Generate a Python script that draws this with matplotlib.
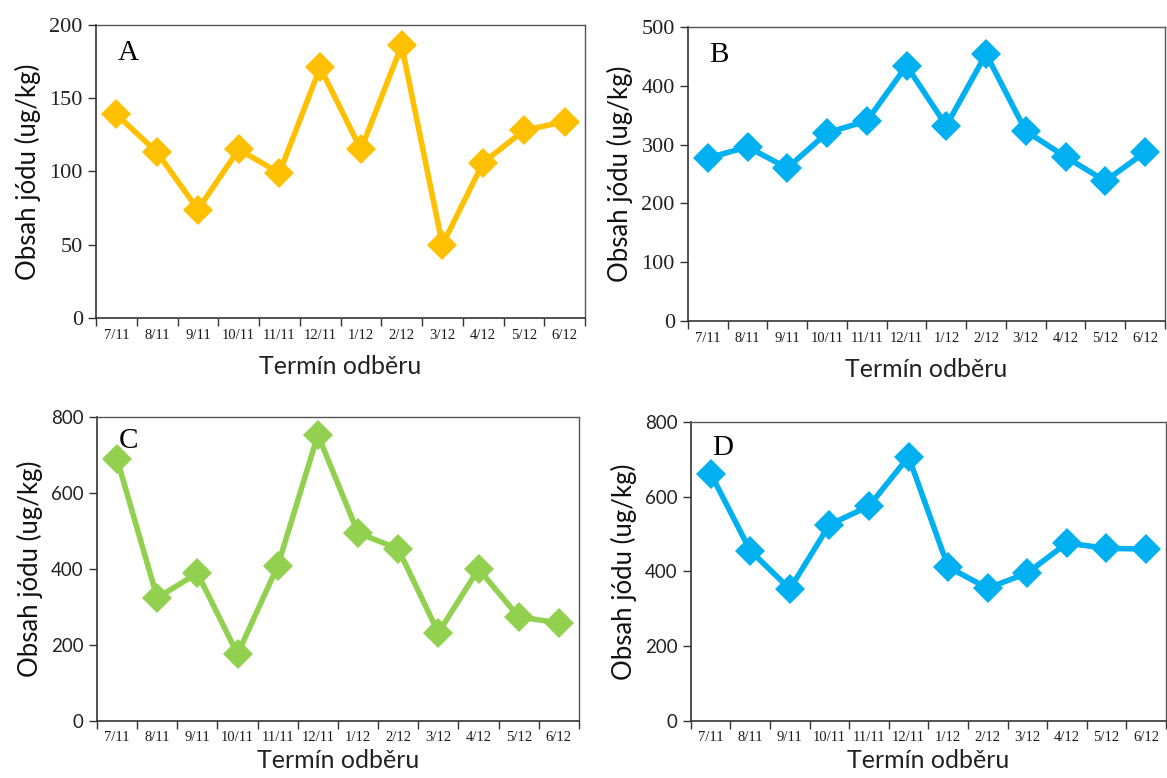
import numpy as np
import matplotlib.pyplot as plt

# sampling dates
terms = ['7/11', '8/11', '9/11', '10/11', '11/11', '12/11',
         '1/12', '2/12', '3/12', '4/12', '5/12', '6/12']

# iodine content per panel (ug/kg)
vals_a = [139, 113, 74, 115, 99, 171, 115, 186, 50, 106, 128, 134]
vals_b = [277, 296, 260, 320, 340, 434, 332, 454, 323, 279, 238, 287]
vals_c = [689, 324, 389, 176, 408, 753, 495, 453, 232, 400, 274, 258]
vals_d = [662, 456, 353, 525, 575, 707, 412, 355, 396, 476, 462, 460]

# letter, values, colour, ymax, step, axes rect, ytick font, tick pad, label pad, letter y
panels = [
    ('A', vals_a, '#FFC000', 200, 50, [0.0823, 0.5913, 0.419, 0.3766], 'serif', 8, 9, 0.95),
    ('B', vals_b, '#00B0F0', 500, 100, [0.5895, 0.5874, 0.4087, 0.378], 'serif', 8, 9, 0.95),
    ('C', vals_c, '#92D050', 800, 200, [0.0831, 0.0733, 0.413, 0.3907], 'sans', 7, 4, 0.965),
    ('D', vals_d, '#00B0F0', 800, 200, [0.592, 0.0733, 0.407, 0.3843], 'sans', 7, 4, 0.955),
]

fig = plt.figure(figsize=(11.67, 7.78), dpi=100)

for letter, vals, color, ymax, step, rect, yfont, tpad, lpad, ly in panels:
    ax = fig.add_axes(rect)
    x = np.arange(len(terms))
    ax.plot(x, vals, color=color, lw=4, marker='D', markersize=15,
            markeredgewidth=0, solid_joinstyle='miter')
    ax.set_xlim(-0.5, len(terms) - 0.5)
    ax.set_ylim(0, ymax)
    ax.set_yticks(np.arange(0, ymax + 1, step))
    for lab in ax.get_yticklabels():
        if yfont == 'serif':
            lab.set_family('Liberation Serif')
            lab.set_fontsize(16)
        else:
            lab.set_family('Lato')
            lab.set_fontsize(13.5)
        lab.set_color('#222222')
    # Excel-style category ticks at boundaries, labels centered
    ax.set_xticks(np.arange(-0.5, len(terms)), minor=False)
    ax.set_xticklabels([])
    ax.set_xticks(x, minor=True)
    ax.set_xticklabels(terms, minor=True, family='Liberation Serif',
                       fontsize=10.5, color='#1a1a1a')
    ax.tick_params(axis='x', which='minor', length=0, pad=tpad)
    ax.tick_params(axis='x', which='major', length=6, width=1, color='#333333')
    ax.tick_params(axis='y', length=6, width=1, color='#333333')
    for side in ['top', 'right']:
        ax.spines[side].set_color('#555555')
        ax.spines[side].set_linewidth(1)
    for side in ['left', 'bottom']:
        ax.spines[side].set_color('#333333')
        ax.spines[side].set_linewidth(1.2)
    ax.set_xlabel('Termín odběru', family='Lato', fontsize=18,
                  color='#222222', labelpad=lpad)
    ax.set_ylabel('Obsah jódu (ug/kg)', family='Lato', fontsize=18.5,
                  color='#111111', labelpad=6)
    ax.text(0.045, ly, letter, transform=ax.transAxes, family='Liberation Serif',
            fontsize=21, va='top', ha='left', color='black')

fig.savefig('out.png', dpi=100)
